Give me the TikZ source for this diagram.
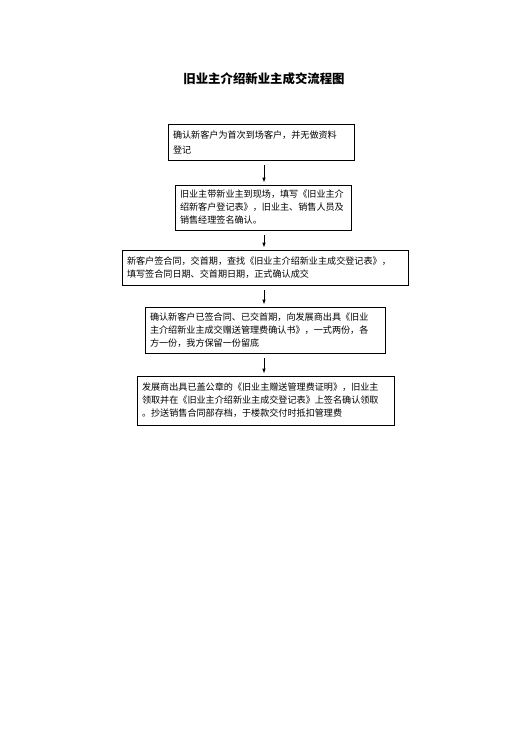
\documentclass[tikz,border=0pt]{standalone}
\usepackage{fontspec}
\setmainfont{Noto Sans CJK SC}
\usetikzlibrary{arrows.meta}
\begin{document}
\begin{tikzpicture}[x=1pt,y=-1pt,
  stepbox/.style={draw=black,line width=0.8pt,inner xsep=5pt,inner ysep=3pt,align=left,
    font=\fontsize{9.1}{13}\selectfont,anchor=center},
  arr/.style={-{Latex[length=5pt,width=3.5pt]},line width=0.8pt,shorten <=5pt,shorten >=2pt}]
\useasboundingbox[fill=white] (0,0) rectangle (529,748);
\node[font=\bfseries\fontsize{12.4}{14}\selectfont] (title) at (264,79) {旧业主介绍新业主成交流程图};
\node[stepbox,text width=176pt,minimum height=36pt,font=\fontsize{9.1}{15}\selectfont] (b1) at (261,142)
  {确认新客户为首次到场客户，并无做资料\\登记};
\node[stepbox,text width=166pt,minimum height=45pt] (b2) at (263,207.5)
  {旧业主带新业主到现场，填写《旧业主介\\绍新客户登记表》，旧业主、销售人员及\\销售经理签名确认。};
\node[stepbox,text width=276pt,minimum height=35pt] (b3) at (265,267.5)
  {新客户签合同，交首期，查找《旧业主介绍新业主成交登记表》，\\填写签合同日期、交首期日期，正式确认成交};
\node[stepbox,text width=230pt,minimum height=46pt] (b4) at (265,330)
  {确认新客户已签合同、已交首期，向发展商出具《旧业\\主介绍新业主成交赠送管理费确认书》，一式两份，各\\方一份，我方保留一份留底};
\node[stepbox,text width=247pt,minimum height=49pt] (b5) at (265.5,400.5)
  {发展商出具已盖公章的《旧业主赠送管理费证明》，旧业主\\领取并在《旧业主介绍新业主成交登记表》上签名确认领取\\。抄送销售合同部存档，于楼款交付时抵扣管理费};
\coordinate (ax) at (264,0);
\draw[arr] (b1.south -| ax) -- (b2.north -| ax);
\draw[arr] (b2.south -| ax) -- (b3.north -| ax);
\draw[arr] (b3.south -| ax) -- (b4.north -| ax);
\draw[arr] (b4.south -| ax) -- (b5.north -| ax);
\end{tikzpicture}
\end{document}
